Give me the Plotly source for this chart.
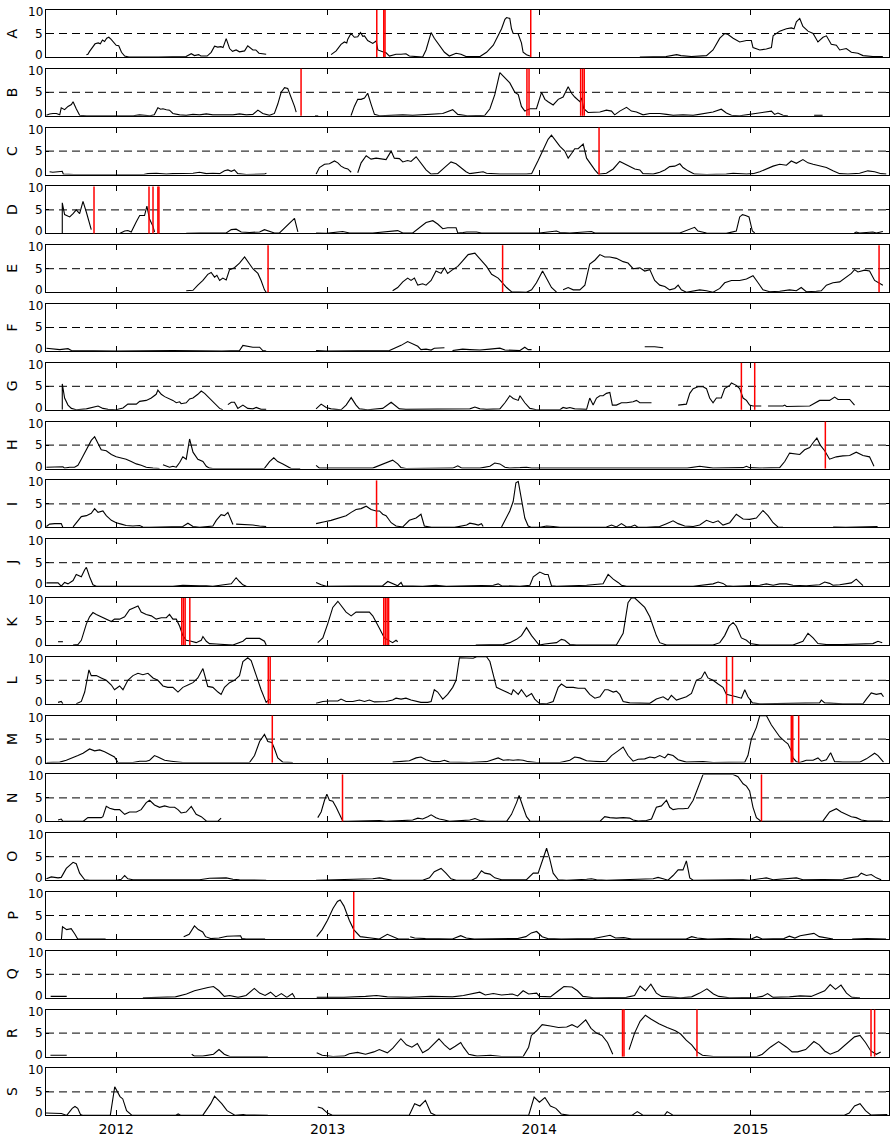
import plotly.graph_objects as go

# ---------------------------------------------------------------------------
# Data: each station is a list of continuous segments of (decimal year, value).
# Gaps in the record separate the segments.  *_events are the event markers
# (decimal years) drawn as red vertical lines.
# ---------------------------------------------------------------------------
PANEL_LABELS = list("ABCDEFGHIJKLMNOPQRS")
YEAR_TICKS = [2012, 2013, 2014, 2015]
YEAR_LABELS = ["2012", "2013", "2014", "2015"]
X_RANGE = [2011.668, 2015.654]
Y_TICKS = [0, 5, 10]
THRESHOLD = 5

A_segs = [
    [(2011.859, 0.5), (2011.866, 0.6), (2011.874, 1.2), (2011.89, 2.2), (2011.90, 2.8), (2011.915, 3.0),
     (2011.925, 2.8), (2011.935, 3.6), (2011.945, 3.3), (2011.955, 4.0), (2011.965, 4.2), (2011.975, 3.8),
     (2011.99, 3.0), (2012.0, 2.5), (2012.012, 2.4), (2012.025, 1.0), (2012.04, 0.2), (2012.06, 0.0),
     (2012.2, 0.0), (2012.33, 0.1), (2012.355, 0.7), (2012.37, 0.3), (2012.39, 0.5), (2012.40, 0.2),
     (2012.43, 0.2), (2012.449, 1.0), (2012.465, 2.3), (2012.48, 2.1), (2012.495, 2.2), (2012.505, 2.0),
     (2012.52, 3.9), (2012.53, 2.4), (2012.536, 1.8), (2012.55, 1.2), (2012.567, 1.5), (2012.583, 1.1),
     (2012.607, 1.3), (2012.622, 2.4), (2012.635, 1.8), (2012.646, 1.5), (2012.66, 1.5), (2012.675, 0.8),
     (2012.709, 0.6)],
    [(2013.016, 0.5), (2013.04, 1.3), (2013.063, 2.7), (2013.079, 3.2), (2013.09, 3.0), (2013.095, 3.8),
     (2013.11, 5.0), (2013.126, 4.2), (2013.142, 4.3), (2013.155, 5.2), (2013.166, 4.4), (2013.174, 4.5),
     (2013.189, 3.5), (2013.213, 2.9), (2013.229, 3.4), (2013.237, 1.5), (2013.26, 1.1), (2013.276, 0.9),
     (2013.292, 0.2), (2013.323, 0.6), (2013.347, 0.6), (2013.37, 0.7), (2013.386, 0.2), (2013.449, 0.0),
     (2013.465, 1.5), (2013.489, 5.2), (2013.504, 4.0), (2013.528, 2.5), (2013.552, 1.0), (2013.575, 0.2),
     (2013.607, 0.8), (2013.63, 0.6), (2013.654, 0.1), (2013.72, 0.1), (2013.751, 1.0), (2013.783, 2.5),
     (2013.806, 4.5), (2013.822, 6.0), (2013.838, 8.0), (2013.846, 8.4), (2013.861, 8.2), (2013.869, 6.0),
     (2013.877, 5.0), (2013.90, 5.0), (2013.916, 3.0), (2013.924, 1.0), (2013.94, 0.5), (2013.956, 0.2)],
    [(2014.476, 0.0), (2014.6, 0.1), (2014.65, 0.5), (2014.67, 0.3), (2014.72, 0.1), (2014.791, 0.3),
     (2014.822, 1.5), (2014.854, 4.0), (2014.877, 5.0), (2014.893, 4.8), (2014.917, 4.0), (2014.948, 3.2),
     (2014.98, 3.5), (2015.003, 3.5), (2015.011, 2.0), (2015.043, 1.5), (2015.074, 1.7), (2015.098, 2.0),
     (2015.106, 4.5), (2015.137, 5.5), (2015.169, 6.0), (2015.192, 6.2), (2015.205, 6.0), (2015.216, 7.5),
     (2015.232, 8.2), (2015.247, 6.5), (2015.271, 5.5), (2015.295, 5.0), (2015.318, 3.2), (2015.342, 4.2),
     (2015.358, 4.5), (2015.381, 2.7), (2015.405, 2.5), (2015.421, 1.5), (2015.452, 1.8), (2015.476, 1.0),
     (2015.507, 0.8), (2015.531, 0.3), (2015.578, 0.1), (2015.625, 0.1)],
]
A_events = [2013.232, 2013.265, 2013.271, 2013.96]

B_segs = [
    [(2011.67, 0.1), (2011.685, 0.4), (2011.701, 0.5), (2011.717, 0.5), (2011.733, 0.2), (2011.74, 1.7),
     (2011.756, 1.3), (2011.772, 2.0), (2011.788, 2.4), (2011.796, 3.0), (2011.811, 1.5), (2011.827, 0.1),
     (2011.86, 0.0), (2012.08, 0.0), (2012.11, 0.2), (2012.142, 0.1), (2012.16, 0.0), (2012.18, 0.2),
     (2012.197, 1.7), (2012.21, 1.4), (2012.221, 1.5), (2012.237, 1.3), (2012.252, 1.2), (2012.268, 0.5),
     (2012.30, 0.2), (2012.331, 0.1), (2012.363, 0.3), (2012.394, 0.2), (2012.426, 0.4), (2012.457, 0.2),
     (2012.489, 0.2), (2012.52, 0.3), (2012.552, 0.2), (2012.583, 0.4), (2012.615, 0.2), (2012.646, 0.3),
     (2012.67, 1.2), (2012.693, 0.5), (2012.725, 0.1), (2012.748, 0.5), (2012.764, 2.5), (2012.78, 5.0),
     (2012.796, 6.0), (2012.811, 5.8), (2012.827, 4.0), (2012.843, 2.0), (2012.851, 0.8)],
    [(2012.94, 0.0), (2012.955, 0.0)],
    [(2013.11, 0.0), (2013.126, 2.0), (2013.142, 3.5), (2013.158, 3.5), (2013.174, 3.8), (2013.189, 4.8),
     (2013.205, 2.5), (2013.221, 0.3), (2013.245, 0.0), (2013.355, 0.2), (2013.402, 0.1), (2013.449, 0.2),
     (2013.544, 0.5), (2013.591, 1.3), (2013.615, 0.3), (2013.66, 0.0), (2013.743, 0.1), (2013.767, 1.5),
     (2013.79, 4.5), (2013.814, 9.2), (2013.838, 8.0), (2013.861, 7.0), (2013.885, 5.0), (2013.901, 4.5),
     (2013.916, 2.0), (2013.932, 1.0), (2013.956, 1.5), (2013.987, 1.5), (2014.011, 5.0), (2014.027, 3.5),
     (2014.042, 3.0), (2014.066, 2.3), (2014.09, 3.5), (2014.113, 4.0), (2014.137, 6.2), (2014.153, 4.8),
     (2014.168, 4.0), (2014.192, 3.0), (2014.2, 3.8), (2014.211, 1.5), (2014.231, 0.7), (2014.255, 0.8),
     (2014.287, 0.8), (2014.318, 1.2), (2014.342, 1.0), (2014.357, 0.2), (2014.381, 1.0), (2014.413, 1.8),
     (2014.436, 1.0), (2014.46, 0.8), (2014.491, 0.2), (2014.523, 0.5), (2014.57, 0.5), (2014.602, 0.3),
     (2014.633, 0.1), (2014.68, 0.2), (2014.728, 0.1), (2014.822, 0.8), (2014.861, 1.4), (2014.885, 0.6),
     (2014.909, 0.1), (2014.948, 0.0), (2015.098, 1.0), (2015.113, 0.3), (2015.129, 0.6), (2015.153, 0.1),
     (2015.176, 0.0)],
    [(2015.30, 0.1), (2015.34, 0.1)],
]
B_events = [2012.874, 2013.942, 2013.952, 2014.196, 2014.205, 2014.213]

C_segs = [
    [(2011.685, 0.6), (2011.70, 0.5), (2011.725, 0.6), (2011.745, 0.7), (2011.75, 0.1), (2011.80, 0.0),
     (2012.13, 0.0), (2012.15, 0.2), (2012.19, 0.3), (2012.237, 0.1), (2012.268, 0.2), (2012.30, 0.2),
     (2012.331, 0.2), (2012.363, 0.3), (2012.394, 0.5), (2012.426, 0.2), (2012.457, 0.3), (2012.489, 0.2),
     (2012.512, 0.8), (2012.528, 1.0), (2012.544, 0.7), (2012.559, 1.0), (2012.575, 0.2), (2012.591, 0.1),
     (2012.615, 0.0), (2012.70, 0.1), (2012.71, 0.3)],
    [(2012.945, 0.1), (2012.961, 1.5), (2012.985, 2.2), (2013.008, 2.3), (2013.032, 2.9), (2013.048, 2.5),
     (2013.063, 1.8), (2013.079, 1.4), (2013.095, 1.2), (2013.111, 0.5)],
    [(2013.142, 0.4), (2013.158, 2.5), (2013.182, 4.0), (2013.205, 3.3), (2013.229, 3.5), (2013.252, 3.3),
     (2013.276, 3.2), (2013.30, 5.0), (2013.315, 3.5), (2013.339, 3.4), (2013.355, 2.7), (2013.378, 3.0),
     (2013.394, 2.8), (2013.418, 3.8), (2013.441, 2.5), (2013.465, 1.0), (2013.489, 0.1), (2013.52, 0.2),
     (2013.552, 1.5), (2013.583, 2.7), (2013.607, 2.3), (2013.63, 1.5), (2013.654, 0.6), (2013.672, 0.2),
     (2013.696, 0.4), (2013.735, 0.6), (2013.751, 0.3), (2013.783, 0.2), (2013.814, 0.1), (2013.94, 0.1),
     (2013.964, 0.2), (2013.995, 3.0), (2014.019, 5.5), (2014.042, 7.5), (2014.058, 8.4), (2014.074, 7.5),
     (2014.098, 6.0), (2014.121, 5.0), (2014.137, 3.5), (2014.153, 4.5), (2014.168, 5.5), (2014.184, 5.5),
     (2014.208, 6.5), (2014.224, 3.5), (2014.247, 2.0), (2014.263, 1.0), (2014.279, 0.2), (2014.287, 0.1),
     (2014.318, 0.3), (2014.35, 1.2), (2014.381, 2.8), (2014.405, 2.2), (2014.428, 1.8), (2014.452, 1.2),
     (2014.476, 1.0), (2014.491, 0.2), (2014.539, 0.1), (2014.57, 0.5), (2014.594, 1.0), (2014.617, 1.7),
     (2014.641, 1.8), (2014.665, 2.3), (2014.68, 1.5), (2014.704, 0.8), (2014.735, 0.1), (2014.791, 0.0),
     (2014.885, 0.1), (2014.917, 0.3), (2014.98, 0.1), (2015.011, 0.2), (2015.043, 0.6), (2015.074, 1.2),
     (2015.106, 1.8), (2015.137, 2.2), (2015.169, 2.0), (2015.192, 2.9), (2015.216, 2.4), (2015.247, 3.2),
     (2015.271, 2.5), (2015.295, 2.2), (2015.326, 1.9), (2015.358, 1.5), (2015.389, 0.8), (2015.421, 0.2),
     (2015.46, 0.1), (2015.515, 0.3), (2015.554, 0.8), (2015.586, 0.6), (2015.617, 0.2), (2015.641, 0.1)],
]
C_events = [2014.283]

D_segs = [
    [(2011.745, 0.0), (2011.745, 6.5), (2011.756, 4.0), (2011.78, 3.5), (2011.796, 4.2), (2011.811, 5.0),
     (2011.827, 4.2), (2011.843, 6.8), (2011.859, 4.5), (2011.882, 0.8)],
    [(2012.016, 0.0), (2012.04, 0.5), (2012.055, 0.6), (2012.071, 0.3), (2012.095, 2.5), (2012.111, 3.8),
     (2012.134, 3.8), (2012.145, 5.8), (2012.158, 3.0), (2012.174, 1.5), (2012.181, 0.3)],
    [(2012.331, 0.0), (2012.394, 0.1), (2012.52, 0.1), (2012.544, 0.8), (2012.567, 0.9), (2012.591, 0.3),
     (2012.63, 0.2), (2012.678, 0.3), (2012.701, 0.8), (2012.725, 0.4), (2012.748, 0.1), (2012.772, 0.1),
     (2012.804, 1.5), (2012.827, 2.5), (2012.843, 3.2), (2012.859, 0.3)],
    [(2012.945, 0.1), (2012.993, 0.0), (2013.048, 0.3), (2013.071, 0.4), (2013.103, 0.1), (2013.213, 0.1),
     (2013.331, 0.6), (2013.355, 0.1), (2013.402, 0.1), (2013.441, 1.5), (2013.465, 2.3), (2013.497, 2.7),
     (2013.52, 2.0), (2013.544, 1.0), (2013.567, 1.2), (2013.607, 1.2), (2013.615, 0.1), (2013.64, 0.2),
     (2013.657, 0.3), (2013.704, 0.3), (2013.727, 0.1), (2014.0, 0.1), (2014.05, 0.3), (2014.082, 0.5),
     (2014.098, 0.2), (2014.145, 0.1), (2014.247, 0.4), (2014.263, 0.1), (2014.665, 0.1), (2014.712, 0.8),
     (2014.735, 1.3), (2014.751, 0.5), (2014.791, 0.1), (2014.885, 0.0), (2014.932, 0.5), (2014.948, 3.5),
     (2014.961, 4.0), (2014.976, 3.8), (2014.992, 3.5), (2015.008, 0.5), (2015.019, 0.1)],
    [(2015.49, 0.1), (2015.499, 0.3), (2015.515, 0.1), (2015.578, 0.3), (2015.594, 0.1), (2015.625, 0.4)],
]
D_events = [2011.895, 2012.155, 2012.174, 2012.197, 2012.202]

E_segs = [
    [(2012.331, 0.3), (2012.363, 0.4), (2012.386, 1.5), (2012.41, 2.5), (2012.433, 3.8), (2012.449, 4.2),
     (2012.465, 3.2), (2012.476, 3.6), (2012.489, 2.5), (2012.504, 3.0), (2012.52, 2.6), (2012.536, 4.8),
     (2012.559, 5.2), (2012.583, 6.2), (2012.607, 7.5), (2012.622, 6.5), (2012.646, 5.0), (2012.67, 4.0),
     (2012.685, 2.5), (2012.701, 0.5), (2012.709, 0.0)],
    [(2013.307, 0.3), (2013.331, 1.0), (2013.355, 2.2), (2013.378, 3.0), (2013.394, 2.5), (2013.41, 3.0),
     (2013.426, 1.5), (2013.449, 1.8), (2013.465, 1.5), (2013.489, 2.5), (2013.512, 4.5), (2013.536, 4.0),
     (2013.552, 5.2), (2013.567, 4.0), (2013.591, 4.8), (2013.615, 5.5), (2013.635, 6.5), (2013.652, 7.5),
     (2013.664, 8.0), (2013.696, 8.3), (2013.72, 7.0), (2013.751, 5.5), (2013.775, 3.8), (2013.806, 3.0),
     (2013.822, 2.2), (2013.846, 1.0), (2013.869, 0.1), (2013.94, 0.0), (2013.964, 0.5), (2013.987, 2.0),
     (2014.016, 4.5), (2014.035, 3.0), (2014.058, 1.0), (2014.082, 0.0)],
    [(2014.113, 0.5), (2014.137, 1.0), (2014.161, 0.5), (2014.192, 0.5), (2014.216, 1.5), (2014.239, 6.0),
     (2014.263, 6.8), (2014.287, 8.0), (2014.31, 7.5), (2014.334, 7.5), (2014.365, 7.2), (2014.397, 6.5),
     (2014.42, 6.2), (2014.444, 5.0), (2014.476, 5.2), (2014.499, 4.5), (2014.523, 4.8), (2014.546, 2.5),
     (2014.57, 1.5), (2014.594, 1.2), (2014.617, 0.5), (2014.641, 0.8), (2014.657, 1.5), (2014.672, 0.5),
     (2014.696, 0.0), (2014.728, 0.2), (2014.759, 0.5), (2014.791, 0.3), (2014.822, 0.0), (2014.854, 0.8),
     (2014.877, 2.0), (2014.909, 2.5), (2014.948, 2.5), (2014.98, 2.8), (2015.011, 3.5), (2015.035, 2.0),
     (2015.058, 0.5), (2015.09, 0.1), (2015.137, 0.2), (2015.184, 0.5), (2015.216, 0.3), (2015.239, 1.0),
     (2015.263, 0.1), (2015.31, 0.2), (2015.334, 0.3), (2015.358, 1.5), (2015.389, 2.0), (2015.421, 2.2),
     (2015.452, 3.2), (2015.476, 4.0), (2015.491, 4.8), (2015.507, 4.3), (2015.539, 4.7), (2015.562, 4.5),
     (2015.586, 2.5), (2015.61, 1.8), (2015.625, 1.5)],
]
E_events = [2012.718, 2013.827, 2015.607]

F_segs = [
    [(2011.67, 0.6), (2011.701, 0.4), (2011.733, 0.3), (2011.772, 0.5), (2011.788, 0.1), (2012.0, 0.0),
     (2012.268, 0.1), (2012.50, 0.0), (2012.583, 0.1), (2012.599, 1.2), (2012.622, 1.0), (2012.646, 0.8),
     (2012.678, 0.8), (2012.693, 0.1), (2012.709, 0.0)],
    [(2012.945, 0.1), (2012.993, 0.0), (2013.292, 0.1), (2013.347, 1.2), (2013.378, 2.0), (2013.402, 1.5),
     (2013.426, 1.0), (2013.441, 0.3), (2013.465, 0.4), (2013.489, 0.2), (2013.504, 0.6), (2013.552, 0.7)],
    [(2013.59, 0.1), (2013.638, 0.4), (2013.672, 0.3), (2013.72, 0.2), (2013.767, 0.4), (2013.814, 0.6),
     (2013.838, 0.2), (2013.909, 0.1), (2013.932, 0.8), (2013.948, 0.3), (2013.964, 0.3)],
    [(2014.499, 0.9), (2014.546, 0.9), (2014.586, 0.7)],
]
F_events = []

G_segs = [
    [(2011.745, 0.0), (2011.745, 5.5), (2011.756, 2.5), (2011.772, 1.0), (2011.788, 0.3), (2011.811, 0.0),
     (2011.859, 0.2), (2011.89, 0.5), (2011.914, 0.8), (2011.937, 0.3), (2011.961, 0.1), (2012.0, 0.0),
     (2012.032, 0.4), (2012.055, 1.2), (2012.095, 1.2), (2012.111, 1.8), (2012.142, 2.0), (2012.166, 2.5),
     (2012.189, 3.3), (2012.197, 4.2), (2012.213, 3.3), (2012.229, 2.8), (2012.244, 2.5), (2012.268, 2.0),
     (2012.284, 1.5), (2012.30, 1.7), (2012.307, 1.3), (2012.331, 1.5), (2012.347, 2.3), (2012.363, 2.5),
     (2012.386, 3.3), (2012.402, 4.0), (2012.418, 3.5), (2012.441, 2.5), (2012.465, 1.5), (2012.489, 0.3),
     (2012.504, 0.0)],
    [(2012.528, 1.1), (2012.544, 1.6), (2012.559, 1.6), (2012.575, 0.3), (2012.599, 1.0), (2012.622, 0.3),
     (2012.646, 0.2), (2012.662, 0.5), (2012.685, 0.1), (2012.709, 0.1)],
    [(2012.945, 0.2), (2012.969, 1.2), (2012.993, 0.5), (2013.016, 0.2), (2013.04, 0.1), (2013.063, 0.0),
     (2013.087, 1.0), (2013.111, 2.6), (2013.134, 1.0), (2013.15, 0.2), (2013.189, 0.0), (2013.26, 0.3),
     (2013.30, 1.6), (2013.315, 1.0), (2013.339, 0.2), (2013.37, 0.1), (2013.528, 0.1), (2013.638, 0.1),
     (2013.672, 0.2), (2013.696, 0.6), (2013.72, 0.2), (2013.751, 0.1), (2013.814, 0.2), (2013.838, 1.5),
     (2013.861, 3.0), (2013.877, 2.4), (2013.901, 2.0), (2013.909, 3.0), (2013.932, 1.5), (2013.956, 0.3),
     (2013.987, 0.0), (2014.098, 0.0), (2014.113, 0.5), (2014.129, 0.3), (2014.145, 0.5), (2014.168, 0.2),
     (2014.224, 0.1), (2014.239, 2.5), (2014.255, 1.0), (2014.271, 2.5), (2014.287, 3.0), (2014.302, 3.0),
     (2014.318, 3.5), (2014.334, 3.7), (2014.346, 1.0), (2014.365, 1.0), (2014.389, 1.5), (2014.413, 1.5),
     (2014.444, 1.7), (2014.46, 2.0), (2014.476, 1.5), (2014.531, 1.5)],
    [(2014.657, 1.0), (2014.696, 1.2), (2014.712, 3.5), (2014.728, 4.5), (2014.751, 4.9), (2014.775, 4.9),
     (2014.791, 4.5), (2014.806, 2.5), (2014.822, 1.5), (2014.838, 2.5), (2014.861, 2.5), (2014.877, 4.5),
     (2014.901, 5.2), (2014.909, 5.7), (2014.932, 5.2), (2014.948, 4.5), (2014.964, 2.5), (2014.98, 2.0),
     (2014.995, 1.0), (2015.011, 0.8), (2015.05, 0.8)],
    [(2015.082, 0.8), (2015.153, 0.8), (2015.161, 1.0), (2015.169, 0.7), (2015.279, 0.8), (2015.326, 2.0),
     (2015.373, 2.0), (2015.397, 2.7), (2015.413, 2.2), (2015.468, 2.2), (2015.491, 1.0)],
]
G_events = [2014.956, 2015.019]

H_segs = [
    [(2011.67, 0.3), (2011.701, 0.4), (2011.748, 0.4), (2011.756, 0.1), (2011.78, 0.3), (2011.803, 0.3),
     (2011.819, 0.7), (2011.835, 2.0), (2011.859, 4.0), (2011.882, 6.0), (2011.898, 6.8), (2011.914, 5.5),
     (2011.929, 4.0), (2011.953, 3.8), (2011.977, 3.0), (2012.0, 2.5), (2012.024, 2.3), (2012.047, 2.0),
     (2012.071, 1.5), (2012.095, 1.0), (2012.118, 0.7), (2012.142, 0.3), (2012.174, 0.1), (2012.205, 0.0)],
    [(2012.221, 0.8), (2012.237, 0.6), (2012.252, 0.3), (2012.268, 0.5), (2012.284, 0.3), (2012.30, 1.3),
     (2012.315, 2.5), (2012.331, 2.0), (2012.347, 6.3), (2012.363, 3.5), (2012.386, 2.0), (2012.41, 1.5),
     (2012.426, 0.5), (2012.441, 0.1), (2012.457, 0.0), (2012.70, 0.0), (2012.725, 1.5), (2012.745, 2.3),
     (2012.764, 1.5), (2012.788, 1.0), (2012.811, 0.5), (2012.827, 0.0), (2012.87, 0.0)],
    [(2012.945, 0.7), (2012.961, 0.1), (2013.213, 0.1), (2013.26, 1.0), (2013.307, 1.8), (2013.331, 1.0),
     (2013.347, 0.2), (2013.37, 0.0), (2013.591, 0.1), (2013.615, 0.6), (2013.635, 0.1), (2013.72, 0.1),
     (2013.767, 0.5), (2013.79, 1.2), (2013.814, 1.0), (2013.838, 0.3), (2013.861, 0.1), (2013.909, 0.2),
     (2013.94, 0.3), (2013.964, 0.1), (2014.7, 0.1), (2014.759, 0.5), (2014.791, 0.3), (2014.822, 0.1),
     (2014.964, 0.2), (2014.98, 0.5), (2014.995, 0.2), (2015.043, 0.1), (2015.137, 0.2), (2015.161, 1.5),
     (2015.184, 3.3), (2015.208, 3.2), (2015.232, 3.0), (2015.255, 4.0), (2015.279, 4.5), (2015.295, 5.5),
     (2015.313, 6.5), (2015.329, 5.0), (2015.35, 3.8), (2015.373, 2.0), (2015.405, 2.5), (2015.436, 2.7),
     (2015.468, 2.8), (2015.499, 3.5), (2015.531, 2.8), (2015.562, 2.5), (2015.583, 0.5)],
]
H_events = [2015.353]

I_segs = [
    [(2011.67, 0.2), (2011.685, 0.7), (2011.709, 0.8), (2011.74, 0.8), (2011.748, 0.0)],
    [(2011.796, 0.1), (2011.811, 1.0), (2011.835, 2.3), (2011.859, 2.5), (2011.882, 3.0), (2011.898, 4.0),
     (2011.914, 3.2), (2011.937, 3.5), (2011.953, 2.5), (2011.977, 1.5), (2012.0, 1.0), (2012.024, 0.7),
     (2012.047, 0.4), (2012.079, 0.3), (2012.111, 0.4), (2012.126, 0.1), (2012.158, 0.0), (2012.315, 0.2),
     (2012.339, 0.9), (2012.363, 0.2), (2012.394, 0.0), (2012.457, 0.3), (2012.473, 1.5), (2012.496, 2.7),
     (2012.512, 2.5), (2012.528, 3.2), (2012.544, 1.5), (2012.552, 0.6)],
    [(2012.567, 0.7), (2012.615, 0.6), (2012.646, 0.5), (2012.678, 0.3), (2012.709, 0.2)],
    [(2012.945, 0.8), (2012.961, 1.0), (2012.985, 1.2), (2013.016, 1.5), (2013.056, 2.0), (2013.087, 2.5),
     (2013.111, 3.2), (2013.134, 3.8), (2013.158, 4.0), (2013.182, 4.5), (2013.205, 3.8), (2013.229, 3.5),
     (2013.245, 3.5), (2013.26, 2.8), (2013.276, 2.5), (2013.30, 1.0), (2013.323, 0.3), (2013.355, 0.1),
     (2013.386, 1.5), (2013.418, 2.0), (2013.441, 2.8), (2013.457, 0.3), (2013.49, 0.0), (2013.60, 0.0),
     (2013.657, 0.5), (2013.672, 0.9), (2013.696, 0.7), (2013.712, 0.5), (2013.727, 0.8), (2013.735, 0.2)],
    [(2013.822, 0.1), (2013.838, 1.5), (2013.861, 3.5), (2013.877, 5.5), (2013.89, 9.5), (2013.901, 9.8),
     (2013.916, 6.0), (2013.932, 2.0), (2013.948, 0.3), (2013.964, 0.0), (2014.003, 0.0), (2014.035, 0.3),
     (2014.066, 0.2), (2014.098, 0.0), (2014.318, 0.1), (2014.342, 0.5), (2014.365, 0.1), (2014.389, 0.8),
     (2014.413, 0.1), (2014.436, 0.2), (2014.452, 0.5), (2014.468, 0.0), (2014.507, 0.0), (2014.57, 0.2),
     (2014.602, 0.8), (2014.633, 1.4), (2014.657, 0.8), (2014.688, 0.3), (2014.728, 0.2), (2014.759, 0.5),
     (2014.791, 1.5), (2014.822, 1.0), (2014.846, 1.4), (2014.869, 0.5), (2014.901, 1.0), (2014.932, 2.8),
     (2014.964, 1.8), (2014.995, 1.7), (2015.027, 2.0), (2015.058, 3.6), (2015.082, 2.5), (2015.106, 1.0),
     (2015.129, 0.1), (2015.153, 0.0)],
    [(2015.39, 0.1), (2015.45, 0.0), (2015.60, 0.2)],
]
I_events = [2013.231]

J_segs = [
    [(2011.67, 0.7), (2011.725, 0.7), (2011.74, 0.0), (2011.756, 0.8), (2011.772, 0.5), (2011.796, 1.2),
     (2011.811, 2.5), (2011.835, 2.0), (2011.851, 3.5), (2011.859, 4.0), (2011.874, 2.0), (2011.89, 0.3),
     (2011.906, 0.0), (2012.268, 0.0), (2012.315, 0.2), (2012.347, 0.1), (2012.394, 0.1), (2012.426, 0.1),
     (2012.457, 0.0), (2012.544, 0.5), (2012.567, 1.8), (2012.583, 1.0), (2012.599, 0.3), (2012.615, 0.0)],
    [(2012.945, 0.8), (2012.969, 0.3), (2012.993, 0.0), (2013.26, 0.1), (2013.284, 1.0), (2013.307, 0.5),
     (2013.331, 0.1), (2013.347, 0.8), (2013.355, 0.1), (2013.449, 0.0), (2013.512, 0.2), (2013.56, 0.0),
     (2013.783, 0.2), (2013.806, 0.5), (2013.822, 0.1), (2013.909, 0.0), (2013.956, 0.2), (2013.972, 2.0),
     (2014.003, 3.0), (2014.027, 2.5), (2014.042, 2.5), (2014.058, 0.1), (2014.082, 0.0), (2014.224, 0.2),
     (2014.255, 0.3), (2014.302, 0.5), (2014.326, 2.5), (2014.35, 1.5), (2014.373, 0.8), (2014.389, 0.2),
     (2014.413, 0.0), (2014.617, 0.1), (2014.728, 0.0), (2014.822, 0.5), (2014.846, 0.9), (2014.869, 0.6),
     (2014.885, 0.1), (2014.917, 0.0), (2014.995, 0.1), (2015.043, 0.2), (2015.074, 0.5), (2015.106, 0.2),
     (2015.137, 0.5), (2015.169, 0.5), (2015.2, 0.2), (2015.232, 0.2), (2015.263, 0.1), (2015.326, 0.3),
     (2015.35, 0.9), (2015.373, 0.6), (2015.389, 0.2), (2015.421, 0.3), (2015.452, 0.6), (2015.476, 0.7),
     (2015.499, 1.5), (2015.515, 0.8), (2015.531, 0.1)],
]
J_events = []

K_segs = [
    [(2011.725, 0.7), (2011.748, 0.7)],
    [(2011.796, 0.0), (2011.819, 0.1), (2011.835, 1.0), (2011.859, 4.5), (2011.874, 6.0), (2011.89, 6.9),
     (2011.906, 6.5), (2011.929, 6.0), (2011.953, 5.5), (2011.977, 5.0), (2011.992, 5.5), (2012.016, 5.5),
     (2012.04, 6.0), (2012.063, 7.5), (2012.087, 8.0), (2012.103, 8.3), (2012.118, 7.0), (2012.142, 6.5),
     (2012.166, 6.2), (2012.189, 5.5), (2012.213, 5.8), (2012.237, 5.8), (2012.252, 6.5), (2012.268, 5.5),
     (2012.284, 5.5), (2012.30, 4.0), (2012.315, 2.0), (2012.331, 1.0), (2012.355, 0.8), (2012.378, 0.5),
     (2012.402, 1.0), (2012.41, 1.8), (2012.426, 0.8), (2012.441, 0.3), (2012.473, 0.2), (2012.504, 0.1),
     (2012.552, 0.0), (2012.599, 0.8), (2012.615, 1.4), (2012.646, 1.4), (2012.678, 1.4), (2012.701, 0.8),
     (2012.709, 0.0)],
    [(2012.953, 0.5), (2012.977, 1.5), (2013.0, 4.5), (2013.024, 8.0), (2013.048, 9.3), (2013.063, 8.5),
     (2013.087, 7.0), (2013.111, 6.2), (2013.134, 7.0), (2013.166, 7.0), (2013.197, 7.0), (2013.213, 6.2),
     (2013.229, 5.0), (2013.245, 3.5), (2013.268, 1.5), (2013.292, 0.8), (2013.307, 0.5), (2013.323, 1.0),
     (2013.331, 0.7)],
    [(2013.70, 0.0), (2013.83, 0.1), (2013.861, 0.5), (2013.893, 1.2), (2013.916, 2.0), (2013.94, 3.7),
     (2013.964, 2.0), (2013.987, 0.8), (2014.0, 0.0), (2014.027, 0.2), (2014.082, 0.5), (2014.105, 1.2),
     (2014.121, 1.0), (2014.145, 0.1), (2014.176, 0.0), (2014.365, 0.0), (2014.397, 2.5), (2014.42, 9.0),
     (2014.436, 10.0), (2014.452, 10.0), (2014.476, 9.0), (2014.499, 8.0), (2014.523, 6.0), (2014.539, 4.0),
     (2014.554, 2.0), (2014.57, 0.5), (2014.602, 0.0), (2014.822, 0.0), (2014.854, 0.5), (2014.877, 2.0),
     (2014.898, 4.0), (2014.917, 4.8), (2014.932, 4.0), (2014.956, 1.5), (2014.98, 1.0), (2014.998, 0.3),
     (2015.043, 0.0), (2015.2, 0.0), (2015.247, 0.8), (2015.271, 2.5), (2015.295, 1.5), (2015.318, 0.3),
     (2015.358, 0.1), (2015.436, 0.1), (2015.515, 0.2), (2015.578, 0.3), (2015.602, 0.8), (2015.622, 0.5)],
]
K_events = [2012.31, 2012.318, 2012.326, 2012.348, 2013.265, 2013.273, 2013.281, 2013.288]

L_segs = [
    [(2011.725, 0.3), (2011.74, 0.5), (2011.748, 0.0)],
    [(2011.811, 0.0), (2011.835, 0.5), (2011.851, 2.5), (2011.871, 7.2), (2011.882, 6.0), (2011.906, 6.0),
     (2011.929, 5.5), (2011.953, 5.0), (2011.977, 4.0), (2011.992, 3.0), (2012.016, 3.8), (2012.032, 3.0),
     (2012.055, 5.0), (2012.079, 6.0), (2012.103, 6.5), (2012.126, 6.2), (2012.15, 6.5), (2012.174, 5.5),
     (2012.197, 5.0), (2012.221, 3.8), (2012.244, 3.5), (2012.268, 3.5), (2012.292, 2.5), (2012.315, 3.5),
     (2012.339, 4.0), (2012.363, 4.5), (2012.386, 5.5), (2012.41, 7.5), (2012.433, 3.7), (2012.457, 3.5),
     (2012.481, 2.5), (2012.496, 2.0), (2012.512, 3.5), (2012.536, 4.5), (2012.559, 5.0), (2012.583, 6.0),
     (2012.599, 9.0), (2012.622, 9.8), (2012.638, 9.2), (2012.662, 6.0), (2012.685, 3.0), (2012.709, 0.3),
     (2012.725, 1.0)],
    [(2012.945, 0.1), (2012.977, 0.5), (2013.008, 0.6), (2013.048, 0.6), (2013.063, 1.0), (2013.087, 0.5),
     (2013.119, 0.5), (2013.15, 0.8), (2013.174, 0.5), (2013.197, 0.8), (2013.221, 0.4), (2013.245, 0.5),
     (2013.276, 0.5), (2013.307, 0.8), (2013.323, 1.2), (2013.347, 1.0), (2013.37, 1.2), (2013.394, 0.8),
     (2013.418, 0.5), (2013.441, 0.3), (2013.473, 0.3), (2013.489, 0.5), (2013.504, 3.0), (2013.52, 2.5),
     (2013.544, 1.0), (2013.567, 2.0), (2013.591, 3.5), (2013.607, 5.0), (2013.623, 9.8), (2013.672, 9.8),
     (2013.688, 9.7), (2013.704, 10.0), (2013.751, 10.0), (2013.767, 9.0), (2013.783, 6.0), (2013.798, 3.5),
     (2013.822, 3.0), (2013.846, 2.5), (2013.869, 2.0), (2013.877, 3.0), (2013.901, 2.0), (2013.916, 3.0),
     (2013.94, 1.5), (2013.964, 2.2), (2013.979, 1.0), (2014.0, 0.1), (2014.035, 0.0), (2014.066, 0.5),
     (2014.09, 3.5), (2014.105, 4.2), (2014.129, 3.5), (2014.161, 3.5), (2014.184, 3.3), (2014.216, 3.3),
     (2014.239, 2.0), (2014.263, 1.2), (2014.287, 1.5), (2014.31, 3.0), (2014.326, 3.0), (2014.35, 2.5),
     (2014.365, 2.7), (2014.381, 2.0), (2014.397, 0.5), (2014.428, 0.2), (2014.476, 0.1), (2014.523, 0.1),
     (2014.554, 1.0), (2014.586, 1.5), (2014.609, 0.8), (2014.625, 1.8), (2014.649, 0.8), (2014.672, 1.2),
     (2014.696, 1.5), (2014.72, 2.2), (2014.743, 5.0), (2014.767, 5.5), (2014.783, 6.8), (2014.798, 5.5),
     (2014.822, 5.0), (2014.846, 4.2), (2014.869, 3.5), (2014.885, 2.0), (2014.909, 1.8), (2014.932, 1.5),
     (2014.956, 1.2), (2014.972, 3.0), (2014.987, 1.5), (2015.008, 0.2), (2015.043, 0.0), (2015.2, 0.1),
     (2015.326, 0.2), (2015.334, 0.8), (2015.35, 0.2), (2015.436, 0.0), (2015.531, 0.0), (2015.547, 1.0),
     (2015.57, 2.3), (2015.594, 2.0), (2015.617, 2.2), (2015.628, 1.5)],
]
L_events = [2012.719, 2012.728, 2014.886, 2014.914]

M_segs = [
    [(2011.67, 0.0), (2011.733, 0.1), (2011.764, 0.5), (2011.796, 1.0), (2011.819, 1.5), (2011.843, 2.0),
     (2011.874, 2.9), (2011.898, 2.5), (2011.922, 2.7), (2011.945, 2.3), (2011.969, 1.8), (2011.992, 1.2),
     (2012.008, 0.0), (2012.079, 0.0), (2012.111, 0.3), (2012.142, 0.3), (2012.158, 0.5), (2012.181, 1.5),
     (2012.197, 1.2), (2012.229, 0.5), (2012.26, 0.3), (2012.284, 0.2), (2012.315, 0.0), (2012.63, 0.0),
     (2012.654, 1.5), (2012.678, 4.5), (2012.701, 6.0), (2012.717, 4.5), (2012.736, 4.3), (2012.748, 3.0),
     (2012.764, 1.0), (2012.788, 0.1), (2012.835, 0.0)],
    [(2013.307, 0.1), (2013.386, 0.4), (2013.418, 1.0), (2013.441, 1.2), (2013.465, 0.6), (2013.497, 0.2),
     (2013.528, 0.2), (2013.552, 0.5), (2013.575, 0.1), (2013.67, 0.0), (2013.751, 0.2), (2013.783, 0.6),
     (2013.806, 1.0), (2013.83, 0.5), (2013.853, 0.6), (2013.877, 0.5), (2013.90, 0.6), (2013.924, 0.5),
     (2013.948, 0.2), (2013.987, 0.0), (2014.098, 0.0), (2014.145, 0.5), (2014.168, 1.2), (2014.192, 1.0),
     (2014.224, 0.4), (2014.255, 0.3), (2014.287, 0.2), (2014.318, 0.3), (2014.342, 1.5), (2014.373, 2.5),
     (2014.397, 3.3), (2014.42, 1.5), (2014.444, 0.3), (2014.468, 0.7), (2014.499, 0.8), (2014.523, 1.2),
     (2014.546, 1.0), (2014.57, 1.5), (2014.594, 1.0), (2014.609, 1.8), (2014.633, 1.5), (2014.657, 0.6),
     (2014.696, 0.1), (2014.775, 0.2), (2014.822, 0.0), (2014.972, 0.1), (2014.987, 1.5), (2015.003, 5.0),
     (2015.027, 7.5), (2015.043, 10.0), (2015.074, 10.0), (2015.098, 8.0), (2015.113, 7.0), (2015.137, 5.5),
     (2015.161, 4.5), (2015.176, 4.0), (2015.192, 2.5), (2015.2, 1.0), (2015.216, 0.2), (2015.232, 0.0),
     (2015.263, 0.5), (2015.295, 0.5), (2015.318, 1.0), (2015.334, 0.3), (2015.358, 0.6), (2015.378, 2.1),
     (2015.397, 0.2), (2015.436, 0.1), (2015.515, 0.1), (2015.547, 0.8), (2015.586, 2.0), (2015.602, 1.5),
     (2015.628, 0.1)],
]
M_events = [2012.738, 2015.192, 2015.199, 2015.227]

N_segs = [
    [(2011.725, 0.3), (2011.74, 0.5), (2011.748, 0.0), (2011.843, 0.0), (2011.866, 0.8), (2011.898, 0.8),
     (2011.929, 0.8), (2011.937, 1.0), (2011.953, 3.2), (2011.969, 2.8), (2011.992, 2.5), (2012.016, 2.5),
     (2012.04, 1.5), (2012.063, 2.0), (2012.095, 2.0), (2012.118, 2.5), (2012.142, 4.0), (2012.158, 4.5),
     (2012.181, 3.5), (2012.205, 3.0), (2012.229, 3.3), (2012.252, 3.0), (2012.276, 3.0), (2012.292, 2.5),
     (2012.307, 1.8), (2012.331, 2.0), (2012.355, 3.2), (2012.378, 1.5), (2012.402, 1.0), (2012.426, 0.1),
     (2012.457, 0.0), (2012.48, 0.0), (2012.496, 0.7)],
    [(2012.953, 0.8), (2012.969, 2.0), (2012.985, 4.5), (2012.996, 5.8), (2013.008, 4.5), (2013.024, 4.3),
     (2013.04, 3.0), (2013.056, 1.5), (2013.071, 0.1), (2013.095, 0.0), (2013.213, 0.1), (2013.245, 0.2),
     (2013.276, 0.0), (2013.402, 0.3), (2013.426, 0.7), (2013.449, 0.5), (2013.473, 1.0), (2013.489, 1.4),
     (2013.512, 0.8), (2013.528, 0.5), (2013.552, 0.3), (2013.575, 0.0), (2013.672, 0.3), (2013.696, 0.6),
     (2013.72, 0.2), (2013.751, 0.0), (2013.846, 0.0), (2013.869, 1.5), (2013.893, 4.0), (2013.905, 5.5),
     (2013.924, 3.0), (2013.94, 1.0), (2013.956, 0.1), (2013.987, 0.0), (2014.287, 0.0), (2014.31, 1.0),
     (2014.334, 0.8), (2014.365, 0.7), (2014.397, 0.8), (2014.428, 0.7), (2014.444, 0.3), (2014.468, 0.1),
     (2014.507, 0.2), (2014.531, 0.5), (2014.554, 3.0), (2014.578, 3.3), (2014.602, 4.5), (2014.617, 3.0),
     (2014.633, 2.5), (2014.657, 2.7), (2014.68, 2.7), (2014.704, 2.8), (2014.728, 4.5), (2014.751, 7.0),
     (2014.775, 10.0), (2014.917, 10.0), (2014.94, 9.5), (2014.964, 8.0), (2014.98, 7.5), (2014.995, 6.5),
     (2015.011, 3.0), (2015.027, 0.8), (2015.043, 0.1), (2015.05, 0.0), (2015.2, 0.0), (2015.342, 0.1),
     (2015.373, 2.0), (2015.405, 2.7), (2015.428, 2.0), (2015.452, 1.5), (2015.476, 1.0), (2015.499, 0.8),
     (2015.523, 0.3), (2015.554, 0.1), (2015.625, 0.1)],
]
N_events = [2013.07, 2015.051]

O_segs = [
    [(2011.67, 0.3), (2011.693, 0.7), (2011.725, 0.5), (2011.74, 0.6), (2011.764, 2.5), (2011.796, 3.8),
     (2011.811, 3.5), (2011.827, 1.5), (2011.851, 0.1), (2011.874, 0.0), (2012.0, 0.0), (2012.024, 0.2),
     (2012.04, 1.0), (2012.055, 0.3), (2012.079, 0.1), (2012.111, 0.1), (2012.268, 0.0), (2012.394, 0.1),
     (2012.441, 0.4), (2012.489, 0.5), (2012.52, 0.5), (2012.552, 0.2), (2012.583, 0.1), (2012.709, 0.0)],
    [(2012.945, 0.0), (2013.213, 0.3), (2013.245, 0.5), (2013.276, 0.3), (2013.307, 0.0), (2013.449, 0.0),
     (2013.481, 0.5), (2013.504, 1.8), (2013.536, 2.5), (2013.559, 1.5), (2013.583, 0.3), (2013.607, 0.0),
     (2013.68, 0.0), (2013.704, 0.5), (2013.727, 2.0), (2013.743, 1.5), (2013.767, 1.3), (2013.79, 0.5),
     (2013.822, 0.1), (2013.94, 0.1), (2013.972, 1.5), (2013.995, 1.5), (2014.019, 5.0), (2014.035, 6.8),
     (2014.05, 4.5), (2014.066, 1.5), (2014.09, 0.1), (2014.129, 0.0), (2014.224, 0.2), (2014.247, 0.3),
     (2014.271, 0.1), (2014.318, 0.0), (2014.539, 0.3), (2014.562, 0.6), (2014.586, 0.3), (2014.609, 0.0),
     (2014.633, 1.0), (2014.657, 2.2), (2014.68, 2.2), (2014.696, 4.1), (2014.712, 0.5), (2014.728, 0.0),
     (2014.964, 0.1), (2014.995, 0.0), (2015.043, 0.3), (2015.074, 0.5), (2015.106, 0.1), (2015.2, 0.4),
     (2015.216, 0.5), (2015.247, 0.1), (2015.436, 0.2), (2015.468, 0.5), (2015.507, 0.8), (2015.523, 1.5),
     (2015.547, 1.0), (2015.57, 1.2), (2015.594, 0.5), (2015.617, 0.1)],
]
O_events = []

P_segs = [
    [(2011.741, 0.0), (2011.746, 2.6), (2011.766, 2.0), (2011.787, 2.2), (2011.805, 1.0), (2011.818, 0.0),
     (2011.95, 0.0)],
    [(2012.319, 0.5), (2012.345, 1.0), (2012.37, 2.8), (2012.388, 2.0), (2012.409, 1.5), (2012.422, 0.5),
     (2012.447, 0.1), (2012.486, 0.2), (2012.524, 0.6), (2012.55, 0.7), (2012.588, 0.7), (2012.594, 0.1),
     (2012.614, 0.0), (2012.704, 0.0)],
    [(2012.948, 0.5), (2012.974, 2.0), (2012.999, 4.0), (2013.025, 6.5), (2013.046, 8.0), (2013.059, 8.3),
     (2013.077, 7.0), (2013.102, 4.0), (2013.123, 2.0), (2013.154, 0.5), (2013.205, 0.2), (2013.244, 0.0),
     (2013.282, 1.0), (2013.308, 0.5), (2013.334, 0.0), (2013.385, 0.0)],
    [(2013.39, 0.5), (2013.411, 0.2), (2013.462, 0.1), (2013.59, 0.0), (2013.629, 0.7), (2013.655, 0.2),
     (2013.693, 0.0), (2013.898, 0.1), (2013.937, 0.5), (2013.963, 1.3), (2013.988, 1.6), (2014.014, 0.5),
     (2014.04, 0.1), (2014.104, 0.0), (2014.258, 0.1), (2014.297, 0.4), (2014.335, 0.8), (2014.361, 0.2),
     (2014.4, 0.3), (2014.438, 0.0), (2014.695, 0.0), (2014.721, 0.5), (2014.747, 0.2), (2014.797, 0.0),
     (2014.90, 0.1), (2015.003, 0.0), (2015.029, 0.5), (2015.055, 0.0), (2015.157, 0.1), (2015.183, 0.6),
     (2015.209, 0.2), (2015.234, 0.7), (2015.273, 1.0), (2015.299, 1.2), (2015.324, 0.5), (2015.363, 0.2),
     (2015.389, 0.0)],
    [(2015.48, 0.0), (2015.55, 0.1), (2015.64, 0.0)],
]
P_events = [2013.123]

Q_segs = [
    [(2011.69, 0.3), (2011.766, 0.3)],
    [(2012.126, 0.0), (2012.28, 0.2), (2012.332, 0.8), (2012.37, 1.5), (2012.434, 2.2), (2012.46, 2.4),
     (2012.486, 1.5), (2012.511, 0.3), (2012.537, 0.5), (2012.576, 0.1), (2012.614, 0.5), (2012.653, 2.0),
     (2012.678, 1.0), (2012.704, 0.5), (2012.73, 1.2), (2012.755, 0.2), (2012.781, 0.9), (2012.807, 0.1),
     (2012.833, 0.9), (2012.845, 0.0)],
    [(2012.948, 0.1), (2013.077, 0.1), (2013.179, 0.3), (2013.231, 0.5), (2013.282, 0.2), (2013.385, 0.1),
     (2013.488, 0.3), (2013.59, 0.2), (2013.642, 0.5), (2013.68, 0.9), (2013.719, 1.2), (2013.745, 0.6),
     (2013.783, 0.9), (2013.822, 0.6), (2013.873, 0.8), (2013.898, 0.4), (2013.924, 1.5), (2013.95, 0.8),
     (2013.988, 1.0), (2014.001, 0.3), (2014.053, 0.2), (2014.091, 1.5), (2014.117, 2.4), (2014.155, 2.3),
     (2014.181, 1.5), (2014.207, 0.3), (2014.258, 0.0), (2014.412, 0.1), (2014.451, 0.5), (2014.477, 2.5),
     (2014.502, 1.5), (2014.528, 2.9), (2014.554, 1.0), (2014.579, 0.3), (2014.669, 0.0), (2014.721, 0.2),
     (2014.759, 1.0), (2014.793, 1.9), (2014.824, 0.8), (2014.849, 0.3), (2014.90, 0.0), (2015.029, 0.1),
     (2015.055, 0.3), (2015.08, 0.9), (2015.106, 0.1), (2015.183, 0.2), (2015.234, 0.4), (2015.286, 0.3),
     (2015.324, 1.0), (2015.35, 1.5), (2015.376, 2.8), (2015.401, 1.8), (2015.427, 2.7), (2015.453, 1.0),
     (2015.478, 0.1), (2015.517, 0.0)],
]
Q_events = []

R_segs = [
    [(2011.689, 0.3), (2011.766, 0.3)],
    [(2012.357, 0.5), (2012.37, 0.1), (2012.409, 0.1), (2012.46, 0.5), (2012.486, 1.5), (2012.511, 0.5),
     (2012.537, 0.0), (2012.717, 0.0)],
    [(2012.948, 0.8), (2012.974, 0.3), (2013.025, 0.0), (2013.077, 0.1), (2013.102, 0.6), (2013.141, 0.9),
     (2013.179, 0.5), (2013.218, 1.0), (2013.244, 1.5), (2013.282, 0.8), (2013.308, 1.8), (2013.346, 3.8),
     (2013.372, 2.5), (2013.398, 2.0), (2013.424, 2.8), (2013.449, 0.8), (2013.475, 1.5), (2013.501, 2.7),
     (2013.526, 3.8), (2013.552, 2.5), (2013.578, 1.5), (2013.603, 2.2), (2013.629, 3.0), (2013.642, 2.0),
     (2013.667, 0.5), (2013.706, 0.1), (2013.77, 0.3), (2013.822, 0.0), (2013.924, 0.0), (2013.95, 2.0),
     (2013.963, 4.5), (2013.988, 5.5), (2014.014, 6.8), (2014.053, 6.5), (2014.091, 6.2), (2014.13, 6.3),
     (2014.155, 6.8), (2014.181, 6.2), (2014.22, 7.8), (2014.245, 6.0), (2014.271, 5.0), (2014.297, 4.5),
     (2014.323, 3.0), (2014.348, 0.5)],
    [(2014.425, 1.5), (2014.451, 5.0), (2014.477, 7.5), (2014.502, 8.8), (2014.528, 8.0), (2014.566, 7.0),
     (2014.605, 6.2), (2014.644, 5.5), (2014.669, 4.8), (2014.695, 3.5), (2014.721, 2.5), (2014.747, 1.0),
     (2014.772, 0.3), (2014.824, 0.0), (2015.029, 0.0), (2015.055, 0.5), (2015.093, 2.0), (2015.132, 3.2),
     (2015.17, 2.0), (2015.196, 1.0), (2015.222, 1.0), (2015.26, 1.5), (2015.299, 3.2), (2015.324, 2.5),
     (2015.35, 1.2), (2015.376, 0.5), (2015.414, 1.2), (2015.453, 2.8), (2015.491, 4.2), (2015.517, 4.5),
     (2015.543, 3.0), (2015.568, 1.2), (2015.594, 0.5), (2015.615, 1.0)],
]
R_events = [2014.394, 2014.401, 2014.746, 2015.569, 2015.586]

S_segs = [
    [(2011.664, 0.5), (2011.715, 0.5), (2011.741, 0.4), (2011.766, 0.0), (2011.792, 1.5), (2011.805, 1.9),
     (2011.818, 1.5), (2011.831, 0.2), (2011.844, 0.0), (2011.972, 0.0), (2011.993, 6.1), (2012.018, 4.0),
     (2012.031, 3.5), (2012.049, 1.0), (2012.075, 0.0), (2012.28, 0.0), (2012.293, 0.3), (2012.306, 0.0),
     (2012.409, 0.0), (2012.447, 2.5), (2012.465, 4.1), (2012.499, 2.5), (2012.524, 1.0), (2012.563, 0.0),
     (2012.601, 0.2), (2012.614, 0.1), (2012.717, 0.0)],
    [(2012.953, 1.8), (2012.974, 1.5), (2012.999, 0.5), (2013.025, 0.0), (2013.385, 0.0), (2013.411, 2.5),
     (2013.436, 2.0), (2013.462, 3.2), (2013.488, 0.5), (2013.513, 0.0), (2013.95, 0.0), (2013.976, 3.9),
     (2014.001, 2.8), (2014.027, 3.8), (2014.053, 2.0), (2014.079, 1.5), (2014.104, 0.3), (2014.143, 0.0),
     (2014.438, 0.0), (2014.464, 0.8), (2014.489, 0.1), (2014.592, 0.0), (2014.605, 0.8), (2014.631, 0.1),
     (2014.721, 0.0), (2015.44, 0.0), (2015.466, 0.5), (2015.491, 2.0), (2015.517, 2.5), (2015.543, 1.0),
     (2015.568, 0.1), (2015.646, 0.2)],
]
S_events = []

STATIONS = [
    (A_segs, A_events), (B_segs, B_events), (C_segs, C_events), (D_segs, D_events),
    (E_segs, E_events), (F_segs, F_events), (G_segs, G_events), (H_segs, H_events),
    (I_segs, I_events), (J_segs, J_events), (K_segs, K_events), (L_segs, L_events),
    (M_segs, M_events), (N_segs, N_events), (O_segs, O_events), (P_segs, P_events),
    (Q_segs, Q_events), (R_segs, R_events), (S_segs, S_events),
]

# ---------------------------------------------------------------------------
# Figure: 19 stacked panels sharing one time axis
# ---------------------------------------------------------------------------
W, H = 891, 1136
M_L, M_R, M_T, M_B = 46, 2, 10, 20
PLOT_H = H - M_T - M_B
PLOT_W = W - M_L - M_R
PANEL_STEP = 58.8
PANEL_H = 47
FONT = "DejaVu Sans"
# small vertical nudge of the end labels so neighbouring panels' labels stay apart
Y_LABEL_SHIFT = {0: 2, 5: 0, 10: -2}

fig = go.Figure()
layout = dict(
    width=W, height=H,
    margin=dict(l=M_L, r=M_R, t=M_T, b=M_B, autoexpand=False),
    paper_bgcolor="white", plot_bgcolor="white",
    showlegend=False,
    font=dict(family=FONT, color="black"),
)
shapes, annotations = [], []

n_panels = len(PANEL_LABELS)
for i, (label, (segs, events)) in enumerate(zip(PANEL_LABELS, STATIONS)):
    sfx = "" if i == 0 else str(i + 1)
    xs, ys = [], []
    for seg in segs:
        for x, y in seg:
            xs.append(x)
            ys.append(y)
        xs.append(None)
        ys.append(None)

    fig.add_trace(go.Scatter(
        x=xs, y=ys, mode="lines", connectgaps=False,
        line=dict(color="black", width=1.1),
        xaxis="x" + sfx, yaxis="y" + sfx, hoverinfo="skip",
    ))

    top_px = M_T + i * PANEL_STEP
    bot_px = top_px + PANEL_H
    dom = [(H - M_B - bot_px) / PLOT_H, (H - M_B - top_px) / PLOT_H]

    xa = dict(
        domain=[0, 1], anchor="y" + sfx, range=X_RANGE,
        tickvals=YEAR_TICKS, ticktext=YEAR_LABELS,
        ticks="inside", ticklen=5, tickwidth=1, tickcolor="black",
        showline=True, linecolor="black", linewidth=1, mirror="ticks",
        showgrid=False, zeroline=False, automargin=False,
        showticklabels=(i == n_panels - 1), ticklabelstandoff=1,
        tickfont=dict(family=FONT, size=14, color="black"),
    )
    if i > 0:
        xa["matches"] = "x"
    layout["xaxis" + sfx] = xa
    layout["yaxis" + sfx] = dict(
        domain=dom, anchor="x" + sfx, range=[0, 10],
        tickvals=Y_TICKS, ticks="inside", ticklen=3, tickcolor="black",
        showline=True, linecolor="black", linewidth=1, mirror="ticks",
        showgrid=False, zeroline=False, showticklabels=False, automargin=False,
    )

    # y tick labels
    for v in Y_TICKS:
        annotations.append(dict(
            text=str(v), xref="paper", yref="y" + sfx, x=0, y=v,
            xanchor="right", yanchor="middle", xshift=-2, yshift=Y_LABEL_SHIFT[v],
            showarrow=False, borderpad=0,
            font=dict(family=FONT, size=12, color="black"),
        ))

    # threshold reference line
    shapes.append(dict(
        type="line", xref="x" + sfx + " domain", x0=0, x1=1,
        yref="y" + sfx, y0=THRESHOLD, y1=THRESHOLD,
        line=dict(color="black", width=1, dash="8px,5px"), layer="below",
    ))
    # event markers
    for ev in events:
        shapes.append(dict(
            type="line", xref="x" + sfx, x0=ev, x1=ev,
            yref="y" + sfx + " domain", y0=0, y1=1,
            line=dict(color="red", width=1.5), layer="above",
        ))

    annotations.append(dict(
        text=label, xref="paper", yref="paper",
        x=(12 - M_L) / PLOT_W, y=(dom[0] + dom[1]) / 2,
        xanchor="center", yanchor="middle", textangle=-90, showarrow=False,
        font=dict(family=FONT, size=14, color="black"),
    ))

layout["shapes"] = shapes
layout["annotations"] = annotations
fig.update_layout(**layout)

fig.write_html("out.html")
